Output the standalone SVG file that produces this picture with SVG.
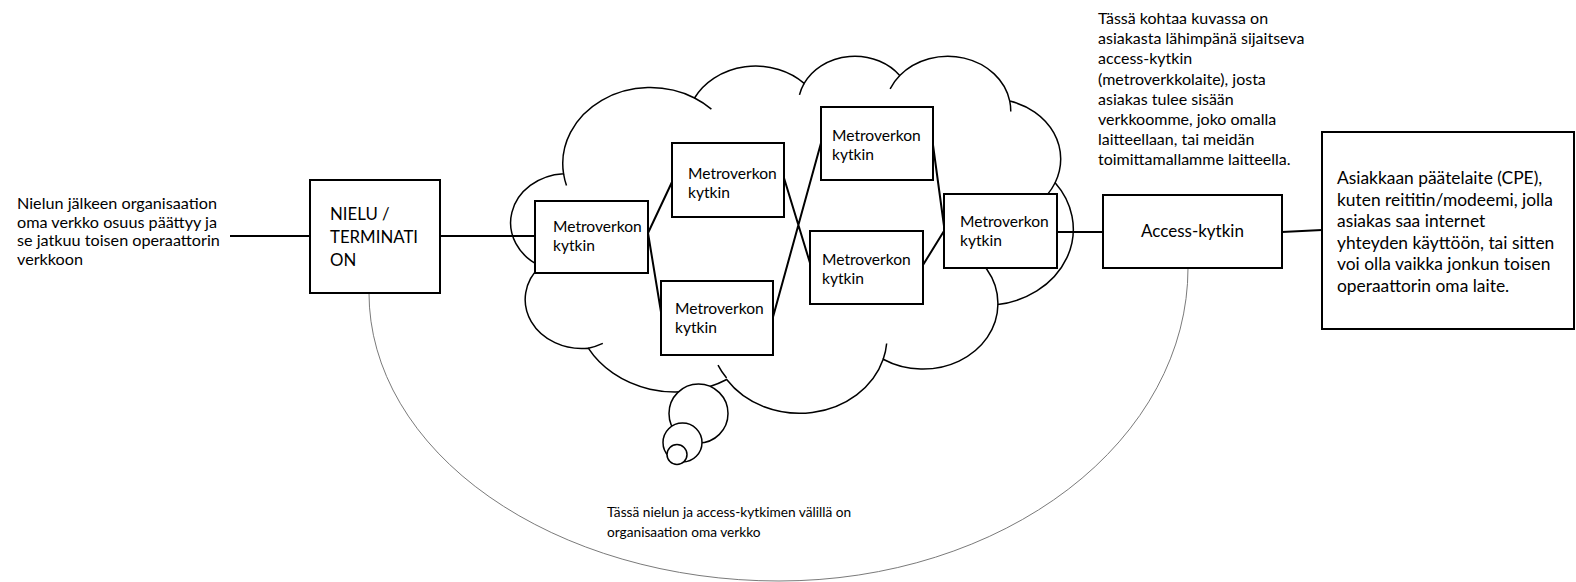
<svg xmlns="http://www.w3.org/2000/svg" width="1576" height="582" viewBox="0 0 1576 582">
<style>
.t{font-family:Lato,"Liberation Sans",sans-serif;fill:#000}
.s{font-size:16.2px}
.tr{font-size:16px}
.b{font-size:13.7px}
.m{font-size:15.6px}
.n{font-size:16.8px}
.a{font-size:17px}
.c{font-size:17.4px}
.box{fill:#fff;stroke:#000;stroke-width:2}
.ln{fill:none;stroke:#000;stroke-width:2}
.cl{fill:#fff;stroke:#000;stroke-width:1.5}
.tk{fill:none;stroke:#000;stroke-width:1.5}
</style>
<rect width="1576" height="582" fill="#fff"/>
<g id="cloud">
<path class="cl" d="M563.56,173.75 A87.54,75.95 0 0 1 694.55,97.99 A69.13,60.05 0 0 1 804.14,83.38 A56.58,49.13 0 0 1 899.76,75.51 A62.96,54.50 0 0 1 1009.75,101.09 A69.13,60.10 0 0 1 1055.12,182.77 A87.83,76.19 0 0 1 997.90,304.60 A74.99,65.01 0 0 1 883.20,359.23 A87.53,76.15 0 0 1 726.69,379.52 A100.07,87.13 0 0 1 588.29,348.15 A56.52,48.91 0 0 1 540.44,266.15 A56.32,49.13 0 0 1 563.56,173.75 Z"/>
<path class="tk" d="M602.81,343.40 A56.52,48.91 0 0 1 588.29,348.15 M726.60,378.04 A87.53,76.15 0 0 1 718.01,365.11 M886.66,343.46 A87.53,76.15 0 0 1 883.20,359.23 M955.41,244.69 A74.99,65.01 0 0 1 997.90,304.60 M1055.12,182.77 A69.13,60.10 0 0 1 1036.35,204.89 M1009.75,101.09 A62.96,54.50 0 0 1 1010.74,111.54 M890.13,88.85 A62.96,54.50 0 0 1 899.76,75.51 M799.49,94.86 A56.58,49.13 0 0 1 804.14,83.38 M694.55,97.99 A87.54,75.95 0 0 1 711.40,109.13 M566.50,185.47 A87.54,75.95 0 0 1 563.56,173.75"/>
<circle class="cl" cx="698.5" cy="413.5" r="29.5"/>
<circle class="cl" cx="682.5" cy="442.5" r="19.5"/>
<circle class="cl" cx="677" cy="454.5" r="10"/>
</g>
<g id="connectors">
<path d="M369,293 A410,288 0 0 0 779,581 A409,313 0 0 0 1188,268" fill="none" stroke="#7a7a7a" stroke-width="1"/>
<path class="ln" d="M230,236 H310 M440,236 H535 M648,233 L672,182 M648,233 L661,312 M784,178 L810,263 M773,317 L821,143 M933,145 L944,226 M923,265 L944,231 M1057,232 H1103 M1282,232 L1322,230"/>
</g>
<g id="nielu">
<rect class="box" x="310" y="180" width="130" height="113"/>
<text class="t n"><tspan x="330" y="220">NIELU /</tspan><tspan x="330" y="243">TERMINATI</tspan><tspan x="330" y="266">ON</tspan></text>
</g>
<g id="metro1">
<rect class="box" x="535" y="201" width="113" height="72"/>
<text class="t m"><tspan x="553" y="232">Metroverkon</tspan><tspan x="553" y="251">kytkin</tspan></text>
</g>
<g id="metro2">
<rect class="box" x="672" y="143" width="112" height="74"/>
<text class="t m"><tspan x="688" y="179">Metroverkon</tspan><tspan x="688" y="198">kytkin</tspan></text>
</g>
<g id="metro3">
<rect class="box" x="661" y="281" width="112" height="74"/>
<text class="t m"><tspan x="675" y="314">Metroverkon</tspan><tspan x="675" y="333">kytkin</tspan></text>
</g>
<g id="metro4">
<rect class="box" x="821" y="107" width="112" height="73"/>
<text class="t m"><tspan x="832" y="141">Metroverkon</tspan><tspan x="832" y="160">kytkin</tspan></text>
</g>
<g id="metro5">
<rect class="box" x="810" y="231" width="113" height="73"/>
<text class="t m"><tspan x="822" y="265">Metroverkon</tspan><tspan x="822" y="284">kytkin</tspan></text>
</g>
<g id="metro6">
<rect class="box" x="944" y="194" width="113" height="74"/>
<text class="t m"><tspan x="960" y="227">Metroverkon</tspan><tspan x="960" y="246">kytkin</tspan></text>
</g>
<g id="access">
<rect class="box" x="1103" y="195" width="179" height="73"/>
<text class="t a" x="1141" y="237">Access-kytkin</text>
</g>
<g id="cpe">
<rect class="box" x="1322" y="132" width="252" height="197"/>
<text class="t c"><tspan x="1337" y="184">Asiakkaan päätelaite (CPE),</tspan><tspan x="1337" y="205.5">kuten reititin/modeemi, jolla</tspan><tspan x="1337" y="227">asiakas saa internet</tspan><tspan x="1337" y="248.5">yhteyden käyttöön, tai sitten</tspan><tspan x="1337" y="270">voi olla vaikka jonkun toisen</tspan><tspan x="1337" y="291.5">operaattorin oma laite.</tspan></text>
</g>
<g id="label-left">
<text class="t s"><tspan x="17" y="209">Nielun jälkeen organisaation</tspan><tspan x="17" y="227.5">oma verkko osuus päättyy ja</tspan><tspan x="17" y="246">se jatkuu toisen operaattorin</tspan><tspan x="17" y="264.5">verkkoon</tspan></text>
</g>
<g id="label-top">
<text class="t tr"><tspan x="1098" y="24">Tässä kohtaa kuvassa on</tspan><tspan x="1098" y="44">asiakasta lähimpänä sijaitseva</tspan><tspan x="1098" y="64">access-kytkin</tspan><tspan x="1098" y="84.5">(metroverkkolaite), josta</tspan><tspan x="1098" y="104.5">asiakas tulee sisään</tspan><tspan x="1098" y="124.5">verkkoomme, joko omalla</tspan><tspan x="1098" y="144.5">laitteellaan, tai meidän</tspan><tspan x="1098" y="165">toimittamallamme laitteella.</tspan></text>
</g>
<g id="label-bottom">
<text class="t b"><tspan x="607" y="517">Tässä nielun ja access-kytkimen välillä on</tspan><tspan x="607" y="537">organisaation oma verkko</tspan></text>
</g>
</svg>
